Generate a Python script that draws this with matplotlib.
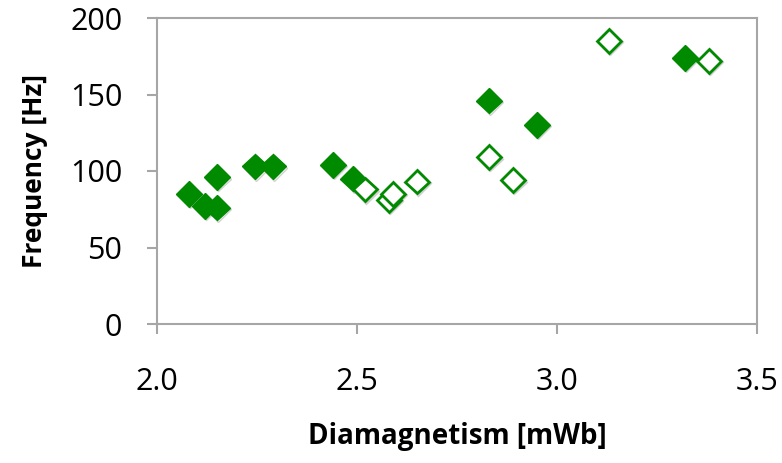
import matplotlib
matplotlib.use("Agg")
import matplotlib.pyplot as plt
import matplotlib.patheffects as pe

plt.rcParams['font.family'] = ['Open Sans', 'DejaVu Sans']

# filled diamonds
filled_x = [2.08, 2.12, 2.15, 2.15, 2.245, 2.29, 2.44, 2.49, 2.83, 2.95, 3.32]
filled_y = [85, 77, 76, 96, 103, 103, 104, 95, 146, 130, 174]
# open diamonds
open_x = [2.52, 2.58, 2.59, 2.65, 2.83, 2.89, 3.13, 3.38]
open_y = [88, 81, 85, 93, 109, 94, 185, 172]

x_ticks = [2.0, 2.5, 3.0, 3.5]
y_ticks = [0, 50, 100, 150, 200]

green = '#008a00'
axis_grey = '#a6a6a6'

fig = plt.figure(figsize=(7.82, 4.63), dpi=100)
ax = fig.add_axes([157 / 782, 1 - 324 / 463, 600 / 782, 306 / 463])

shadow = [pe.SimpleLineShadow(offset=(1, -1), alpha=0.18, shadow_color='black'), pe.Normal()]

ax.plot(filled_x, filled_y, linestyle='none', marker='D', markersize=13,
        color=green, markeredgecolor=green, path_effects=shadow, zorder=3)
ax.plot(open_x, open_y, linestyle='none', marker='D', markersize=12,
        markerfacecolor='white', markeredgecolor=green, markeredgewidth=2,
        path_effects=shadow, zorder=3)

ax.set_xlim(2.0, 3.5)
ax.set_ylim(0, 200)
ax.set_xticks(x_ticks)
ax.set_xticklabels([f"{t:.1f}" for t in x_ticks])
ax.set_yticks(y_ticks)

for s in ax.spines.values():
    s.set_color(axis_grey)
    s.set_linewidth(1.5)

ax.tick_params(axis='both', direction='out', length=7, width=1.5, color=axis_grey,
               labelsize=22)
ax.tick_params(axis='y', pad=18)
ax.tick_params(axis='x', pad=24)

ax.set_xlabel("Diamagnetism [mWb]", fontsize=20, fontweight='bold', labelpad=18)
ax.set_ylabel("Frequency [Hz]", fontsize=19, fontweight='bold', labelpad=16)

fig.savefig("out.png", dpi=100)
